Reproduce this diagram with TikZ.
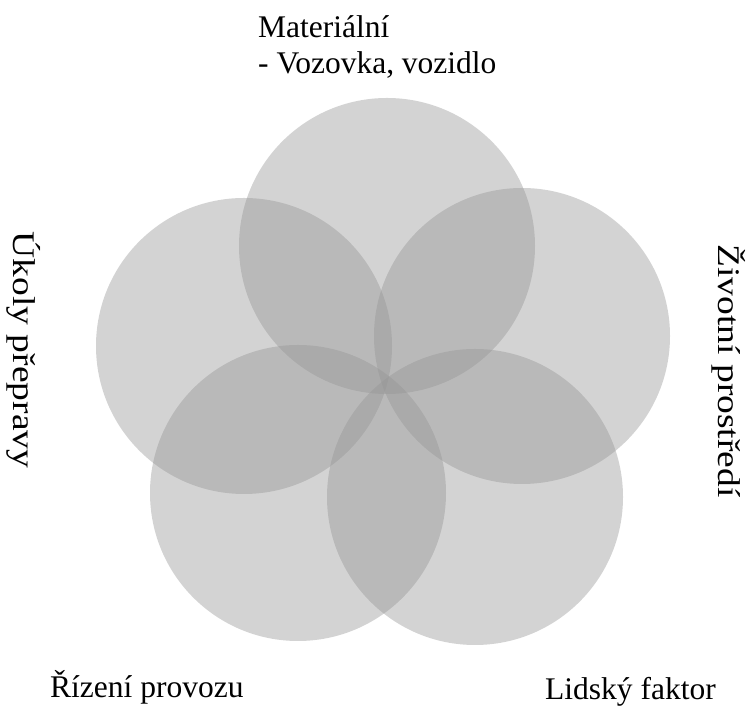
\documentclass[tikz,border=0pt]{standalone}
\usepackage{fontspec}
\setmainfont{Liberation Serif}
\definecolor{petalgray}{RGB}{148,148,148}
\begin{document}
\begin{tikzpicture}[x=1pt,y=1pt,
  petal/.style={circle, minimum size=296pt, inner sep=0pt, fill=petalgray, fill opacity=0.41},
  lbl/.style={inner sep=0pt, font=\fontsize{31.5}{36}\selectfont},
  vlbl/.style={lbl, rotate=-90, xscale=1.19}]
  \useasboundingbox (0,0) rectangle (747,708);
  \foreach \x/\y/\n in {387/462/mat, 522/372/env, 244/362/task, 298/215/ctrl, 475/211/hum} {
    \node[petal] (\n) at (\x,\y) {};
  }
  \node[lbl, anchor=base west, align=left] (matlbl) at (258,634) {Materiální\\- Vozovka, vozidlo};
  \node[vlbl] (tasklbl) at (24,358) {Úkoly přepravy};
  \node[vlbl] (envlbl) at (729,337) {Životní prostředí};
  \node[lbl, anchor=base west] (ctrllbl) at (50,10) {Řízení provozu};
  \node[lbl, anchor=base west] (humlbl) at (545,8) {Lidský faktor};
\end{tikzpicture}
\end{document}
